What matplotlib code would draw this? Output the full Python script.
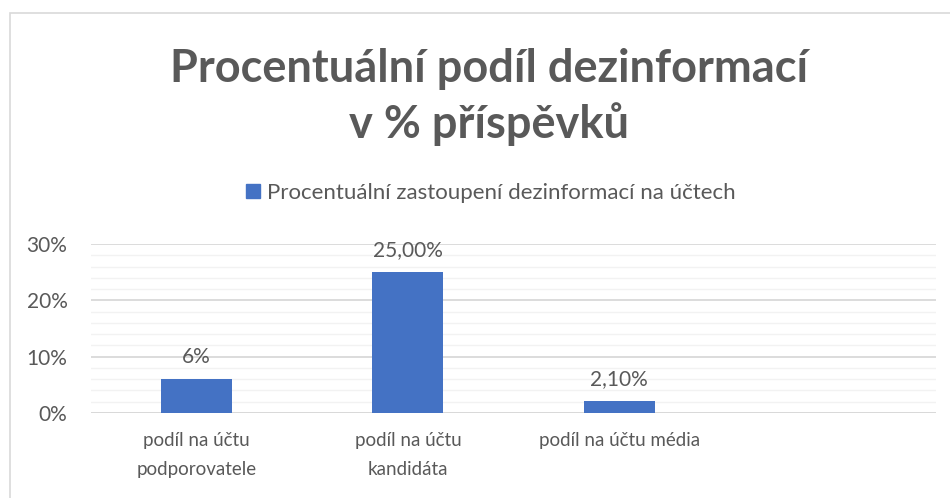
import matplotlib.pyplot as plt
import matplotlib.patches as mpatches
import numpy as np

# data
categories = ["podíl na účtu\npodporovatele", "podíl na účtu\nkandidáta", "podíl na účtu média", ""]
values = [6.0, 25.0, 2.1, np.nan]
value_labels = ["6%", "25,00%", "2,10%", ""]
y_ticks = [0, 10, 20, 30]
y_tick_labels = ["0%", "10%", "20%", "30%"]
series_name = "Procentuální zastoupení dezinformací na účtech"
title = "Procentuální podíl dezinformací\nv % příspěvků"

BAR = "#4472C4"
TXT = "#595959"

plt.rcParams['font.family'] = ['Lato', 'DejaVu Sans']

fig = plt.figure(figsize=(9.5, 4.98), dpi=100)
ax = fig.add_axes([91 / 950, 1 - 413 / 498, (936 - 91) / 950, (413 - 244) / 498])

x = np.arange(len(categories))
ax.bar(x, values, width=0.335, color=BAR, zorder=3, label=series_name)

for xi, v, lab in zip(x, values, value_labels):
    if lab:
        ax.annotate(lab, (xi, v), xytext=(0, 9), textcoords="offset points",
                    ha="center", va="bottom", fontsize=15, color=TXT)

ax.set_xlim(-0.5, len(categories) - 0.5)
ax.set_ylim(0, 30)
ax.set_yticks(y_ticks)
ax.set_yticklabels(y_tick_labels, fontsize=15, color=TXT)
ax.set_yticks(np.arange(0, 31, 2), minor=True)
ax.set_xticks(x)
ax.set_xticklabels(categories, fontsize=13.5, color=TXT, linespacing=1.85)
ax.tick_params(axis="both", which="both", length=0)
ax.tick_params(axis="y", pad=17)
ax.tick_params(axis="x", pad=14)

ax.grid(axis="y", which="major", color="#D9D9D9", linewidth=1.3, zorder=0)
ax.grid(axis="y", which="minor", color="#F2F2F2", linewidth=1.0, zorder=0)
for s in ax.spines.values():
    s.set_visible(False)
ax.axhline(0, color="#D9D9D9", linewidth=1.3, zorder=2)

fig.text(489 / 950, 1 - 97 / 498, title, ha="center", va="center", fontsize=32.5,
         fontweight="bold", color=TXT, linespacing=1.35)

leg = fig.legend(handles=[mpatches.Patch(color=BAR, label=series_name)],
                 loc="center", bbox_to_anchor=(0.517, 1 - 193 / 498), frameon=False,
                 fontsize=16, handlelength=0.6, handleheight=0.6, handletextpad=0.35)
for t in leg.get_texts():
    t.set_color(TXT)

# chart frame
fig.patches.append(mpatches.Rectangle((10 / 950, -0.1), 1.2, 1 - 13 / 498 + 0.1,
                                      transform=fig.transFigure, fill=False,
                                      edgecolor="#D9D9D9", linewidth=1.2))

fig.savefig("out.png", dpi=100)
